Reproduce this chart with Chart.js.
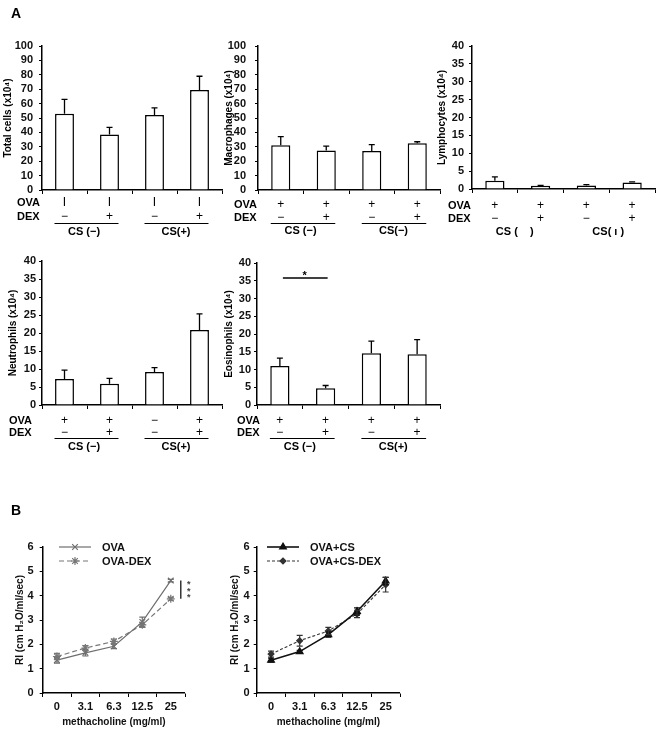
<!DOCTYPE html>
<html><head><meta charset="utf-8">
<script src="https://cdn.jsdelivr.net/npm/chart.js@4.4.0/dist/chart.umd.min.js"></script>
<style>
html,body{margin:0;padding:0;background:#fff;}
#wrap{position:relative;width:660px;height:756px;overflow:hidden;}
canvas{position:absolute;left:0;top:0;}
</style></head><body><div id="wrap">
<canvas id="c1" width="660" height="756"></canvas>
<canvas id="c2" width="660" height="756"></canvas>
<canvas id="c3" width="660" height="756"></canvas>
<canvas id="c4" width="660" height="756"></canvas>
<canvas id="c5" width="660" height="756"></canvas>
<canvas id="c6" width="660" height="756"></canvas>
<canvas id="c7" width="660" height="756"></canvas>
</div>
<script>
// ---------- data ----------
const groups = ['OVA / CS(-)', 'OVA+DEX / CS(-)', 'OVA / CS(+)', 'OVA+DEX / CS(+)'];
const totalCells = [53, 38.5, 52, 69.5];
const totalCellsErr = [10, 5, 5, 9.5];
const macrophages = [31, 27.5, 27, 32.5];
const macrophagesErr = [6, 3, 4.5, 1];
const lymphocytes = [2.3, 0.9, 0.95, 1.8];
const lymphocytesErr = [1.1, 0.1, 0.25, 0.2];
const neutrophils = [7.2, 5.9, 9.2, 20.8];
const neutrophilsErr = [2.5, 1.5, 1.2, 4.5];
const eosinophils = [11, 4.7, 14.6, 14.3];
const eosinophilsErr = [2.2, 0.8, 3.4, 4.1];

const doses = ['0', '3.1', '6.3', '12.5', '25'];
const ovaRI = [1.35, 1.65, 1.92, 2.92, 4.62];
const ovaRIErr = [0.12, 0.13, 0.1, 0.2, 0.05];
const ovaDexRI = [1.5, 1.85, 2.12, 2.8, 3.87];
const ovaDexRIErr = [0.13, 0.1, 0.1, 0.1, 0.06];
const ovaCsRI = [1.35, 1.7, 2.4, 3.35, 4.6];
const ovaCsRIErr = [0.08, 0.05, 0.1, 0.15, 0.15];
const ovaCsDexRI = [1.6, 2.15, 2.55, 3.25, 4.45];
const ovaCsDexRIErr = [0.12, 0.22, 0.15, 0.15, 0.3];

const F = 'Arial, "Liberation Sans", sans-serif';

// ---------- bar chart helpers ----------
function barExtras(errs, cfg) {
  return {
    id: 'extras',
    afterDatasetsDraw(chart) {
      const ctx = chart.ctx, x = chart.scales.x, y = chart.scales.y;
      const vals = chart.data.datasets[0].data;
      ctx.save();
      ctx.strokeStyle = '#000'; ctx.lineWidth = 1.3;
      vals.forEach((v, i) => {
        const cx = x.getPixelForValue(i);
        const y0 = y.getPixelForValue(v), y1 = y.getPixelForValue(v + errs[i]);
        ctx.beginPath();
        ctx.moveTo(cx, y0); ctx.lineTo(cx, y1);
        ctx.moveTo(cx - 3, y1); ctx.lineTo(cx + 3, y1);
        ctx.stroke();
      });
      // row labels
      const b = y.bottom;
      ctx.fillStyle = '#000';
      ctx.textBaseline = 'middle';
      ctx.textAlign = 'left';
      ctx.font = 'bold 11px ' + F;
      ctx.fillText('OVA', cfg.labelX, b + cfg.rowOva);
      ctx.fillText('DEX', cfg.labelX, b + cfg.rowDex);
      ctx.textAlign = 'center';
      ctx.font = '12px ' + F;
      cfg.ova.forEach((s, i) => ctx.fillText(s, x.getPixelForValue(i), b + cfg.rowOva));
      cfg.dex.forEach((s, i) => ctx.fillText(s, x.getPixelForValue(i), b + cfg.rowDex));
      if (cfg.lines) {
        ctx.lineWidth = 1;
        [[0, 1], [2, 3]].forEach(([a, c]) => {
          ctx.beginPath();
          ctx.moveTo(x.getPixelForValue(a) - 10, b + 33.5);
          ctx.lineTo(x.getPixelForValue(c) + 9, b + 33.5);
          ctx.stroke();
        });
      }
      ctx.font = 'bold 11px ' + F;
      ctx.fillText(cfg.cs[0], (x.getPixelForValue(0) + x.getPixelForValue(1)) / 2 - 3, b + cfg.rowCs);
      ctx.fillText(cfg.cs[1], (x.getPixelForValue(2) + x.getPixelForValue(3)) / 2 - 1, b + cfg.rowCs);
      if (cfg.sig) {
        const sy = y.getPixelForValue(cfg.sig.value);
        ctx.lineWidth = 1.5;
        ctx.beginPath();
        ctx.moveTo(x.getPixelForValue(0) + 3, sy);
        ctx.lineTo(x.getPixelForValue(1) + 2, sy);
        ctx.stroke();
        ctx.font = 'bold 11px ' + F;
        ctx.fillText('*', (x.getPixelForValue(0) + x.getPixelForValue(1)) / 2 + 2, sy - 2);
      }
      if (cfg.letter) {
        ctx.font = 'bold 14px ' + F;
        ctx.textAlign = 'left';
        ctx.fillText(cfg.letter, 11, 14);
      }
      ctx.restore();
    }
  };
}

function barChart(id, vals, errs, cfg) {
  new Chart(document.getElementById(id), {
    type: 'bar',
    data: { labels: groups, datasets: [{ data: vals, backgroundColor: '#fff', borderColor: '#000', borderWidth: 1.5, barPercentage: 0.42, categoryPercentage: 1 }] },
    options: {
      responsive: false, animation: false, events: [],
      layout: { padding: { left: cfg.padL, top: cfg.top, right: 660 - cfg.right, bottom: 756 - cfg.bottom - 10 } },
      plugins: { legend: { display: false }, tooltip: { enabled: false } },
      scales: {
        x: {
          offset: true,
          grid: { offset: true, drawOnChartArea: false, drawTicks: true, tickLength: 4, color: '#000', lineWidth: 1 },
          ticks: { display: false },
          border: { color: '#000', width: 1.5 },
          afterFit(s) { s.height = 10; }
        },
        y: {
          min: 0, max: cfg.max,
          ticks: { stepSize: cfg.step, autoSkip: false, color: '#111', font: { family: F, size: 11, weight: 'bold' }, padding: cfg.tickPad },
          grid: { drawOnChartArea: false, drawTicks: true, tickLength: 3, color: '#000' },
          border: { color: '#000', width: 1.5 },
          title: { display: true, text: cfg.title, color: '#000', font: { family: F, size: 10, weight: 'bold' }, padding: { top: 2, bottom: 0 } },
          afterFit(s) { s.width = cfg.axisW; }
        }
      }
    },
    plugins: [barExtras(errs, cfg)]
  });
}

barChart('c1', totalCells, totalCellsErr, {
  padL: 0, axisW: 42, right: 222, top: 46, bottom: 190, max: 100, step: 10, tickPad: 6,
  title: 'Total cells (x10⁴)', labelX: 17, rowOva: 13, rowDex: 27, rowCs: 42,
  ova: ['I', 'I', 'I', 'I'], dex: ['−', '+', '−', '+'], lines: true, cs: ['CS (−)', 'CS(+)'], letter: 'A'
});
barChart('c2', macrophages, macrophagesErr, {
  padL: 221, axisW: 37, right: 440, top: 46, bottom: 190, max: 100, step: 10, tickPad: 9,
  title: 'Macrophages (x10⁴)', labelX: 234, rowOva: 15, rowDex: 28, rowCs: 41,
  ova: ['+', '+', '+', '+'], dex: ['−', '+', '−', '+'], lines: true, cs: ['CS (−)', 'CS(−)']
});
barChart('c3', lymphocytes, lymphocytesErr, {
  padL: 434, axisW: 38, right: 655, top: 46, bottom: 189, max: 40, step: 5, tickPad: 5,
  title: 'Lymphocytes (x10⁴)', labelX: 448, rowOva: 17, rowDex: 30, rowCs: 43,
  ova: ['+', '+', '+', '+'], dex: ['−', '+', '−', '+'], lines: false, cs: ['CS (    )', 'CS( ı )']
});
barChart('c4', neutrophils, neutrophilsErr, {
  padL: 5, axisW: 37, right: 222, top: 261, bottom: 405, max: 40, step: 5, tickPad: 3,
  title: 'Neutrophils (x10⁴)', labelX: 9, rowOva: 16, rowDex: 28, rowCs: 42,
  ova: ['+', '+', '−', '+'], dex: ['−', '+', '−', '+'], lines: true, cs: ['CS (−)', 'CS(+)']
});
barChart('c5', eosinophils, eosinophilsErr, {
  padL: 221, axisW: 36, right: 440, top: 263, bottom: 405, max: 40, step: 5, tickPad: 3,
  title: 'Eosinophils (x10⁴)', labelX: 237, rowOva: 16, rowDex: 28, rowCs: 42,
  ova: ['+', '+', '+', '+'], dex: ['−', '+', '−', '+'], lines: true, cs: ['CS (−)', 'CS(+)'],
  sig: { value: 35.8 }
});

// ---------- line chart helpers ----------
function lineExtras(errSets, cfg) {
  return {
    id: 'lextras',
    afterDatasetsDraw(chart) {
      const ctx = chart.ctx, x = chart.scales.x, y = chart.scales.y;
      ctx.save();
      chart.data.datasets.forEach((ds, k) => {
        ctx.strokeStyle = ds.borderColor; ctx.lineWidth = 1.2;
        ds.data.forEach((v, i) => {
          const cx = x.getPixelForValue(i);
          const y1 = y.getPixelForValue(v + errSets[k][i]), y2 = y.getPixelForValue(v - errSets[k][i]);
          ctx.beginPath();
          ctx.moveTo(cx, y1); ctx.lineTo(cx, y2);
          ctx.moveTo(cx - 3, y1); ctx.lineTo(cx + 3, y1);
          ctx.moveTo(cx - 3, y2); ctx.lineTo(cx + 3, y2);
          ctx.stroke();
        });
      });
      // legend
      ctx.font = 'bold 11px ' + F;
      ctx.textBaseline = 'middle'; ctx.textAlign = 'left';
      chart.data.datasets.forEach((ds, k) => {
        const ly = cfg.legY + k * 14;
        ctx.strokeStyle = ds.borderColor; ctx.lineWidth = ds.borderWidth;
        ctx.setLineDash(ds.borderDash || []);
        ctx.beginPath(); ctx.moveTo(cfg.legX, ly); ctx.lineTo(cfg.legX + 32, ly); ctx.stroke();
        ctx.setLineDash([]);
        Chart.helpers.drawPoint(ctx, { pointStyle: ds.pointStyle, radius: ds.pointRadius, borderWidth: 1, rotation: 0 }, cfg.legX + 16, ly);
        if (ds.pointBackgroundColor !== '#fff') { ctx.fillStyle = ds.pointBackgroundColor; ctx.fill(); }
        ctx.fillStyle = '#111';
        ctx.fillText(ds.label, cfg.legX + 43, ly + 1);
      });
      if (cfg.stars) {
        const xa = x.getPixelForValue(4) + 10;
        const ya = y.getPixelForValue(chart.data.datasets[0].data[4]);
        const yb = y.getPixelForValue(chart.data.datasets[1].data[4]);
        ctx.strokeStyle = '#333'; ctx.lineWidth = 1.5;
        ctx.beginPath(); ctx.moveTo(xa, ya); ctx.lineTo(xa, yb); ctx.stroke();
        ctx.fillStyle = '#444'; ctx.font = 'bold 9px ' + F; ctx.textAlign = 'center';
        [0, 1, 2].forEach(j => ctx.fillText('*', xa + 8, ya + 4 + j * 6.5));
      }
      if (cfg.letter) {
        ctx.fillStyle = '#000';
        ctx.font = 'bold 14px ' + F; ctx.textAlign = 'left';
        ctx.fillText(cfg.letter, 11, 511);
      }
      ctx.restore();
    }
  };
}

function lineChart(id, sets, errSets, cfg) {
  new Chart(document.getElementById(id), {
    type: 'line',
    data: { labels: doses, datasets: sets },
    options: {
      responsive: false, animation: false, events: [],
      layout: { padding: { left: cfg.padL, top: 547, right: 660 - cfg.right, bottom: 756 - 693 - 35 } },
      plugins: { legend: { display: false }, tooltip: { enabled: false } },
      scales: {
        x: {
          offset: true,
          grid: { offset: true, drawOnChartArea: false, drawTicks: true, tickLength: 4, color: '#000' },
          ticks: { autoSkip: false, maxRotation: 0, color: '#111', font: { family: F, size: 11, weight: 'bold' }, padding: 3 },
          border: { color: '#000', width: 1.5 },
          title: { display: true, text: 'methacholine (mg/ml)', color: '#111', font: { family: F, size: 10, weight: 'bold' }, padding: { top: 0, bottom: 0 } },
          afterFit(s) { s.height = 35; }
        },
        y: {
          min: 0, max: 6,
          ticks: { stepSize: 1, autoSkip: false, color: '#111', font: { family: F, size: 11, weight: 'bold' }, padding: cfg.tickPad },
          grid: { drawOnChartArea: false, drawTicks: true, tickLength: 3, color: '#000' },
          border: { color: '#000', width: 1.5 },
          title: { display: true, text: 'RI (cm H₂O/ml/sec)', color: '#111', font: { family: F, size: 10, weight: 'bold' }, padding: { top: 2, bottom: 0 } },
          afterFit(s) { s.width = cfg.axisW; }
        }
      }
    },
    plugins: [lineExtras(errSets, cfg)]
  });
}

lineChart('c6', [
  { label: 'OVA', data: ovaRI, borderColor: '#6e6e6e', borderWidth: 1.2, pointStyle: 'crossRot', pointRadius: 4, pointBorderColor: '#6e6e6e', pointBackgroundColor: '#fff', tension: 0 },
  { label: 'OVA-DEX', data: ovaDexRI, borderColor: '#777', borderWidth: 1.2, borderDash: [5, 3], pointStyle: 'star', pointRadius: 4, pointBorderColor: '#777', pointBackgroundColor: '#fff', tension: 0 }
], [ovaRIErr, ovaDexRIErr], { padL: 12, axisW: 30.7, right: 185, tickPad: 6, legX: 59, legY: 547, stars: true, letter: 'B' });

lineChart('c7', [
  { label: 'OVA+CS', data: ovaCsRI, borderColor: '#111', borderWidth: 1.6, pointStyle: 'triangle', pointRadius: 3.5, pointBorderColor: '#111', pointBackgroundColor: '#111', tension: 0 },
  { label: 'OVA+CS-DEX', data: ovaCsDexRI, borderColor: '#333', borderWidth: 1.1, borderDash: [3, 2], pointStyle: 'rectRot', pointRadius: 3, pointBorderColor: '#333', pointBackgroundColor: '#333', tension: 0 }
], [ovaCsRIErr, ovaCsDexRIErr], { padL: 227, axisW: 29.7, right: 400, tickPad: 4, legX: 267, legY: 547 });
</script>
</body></html>
